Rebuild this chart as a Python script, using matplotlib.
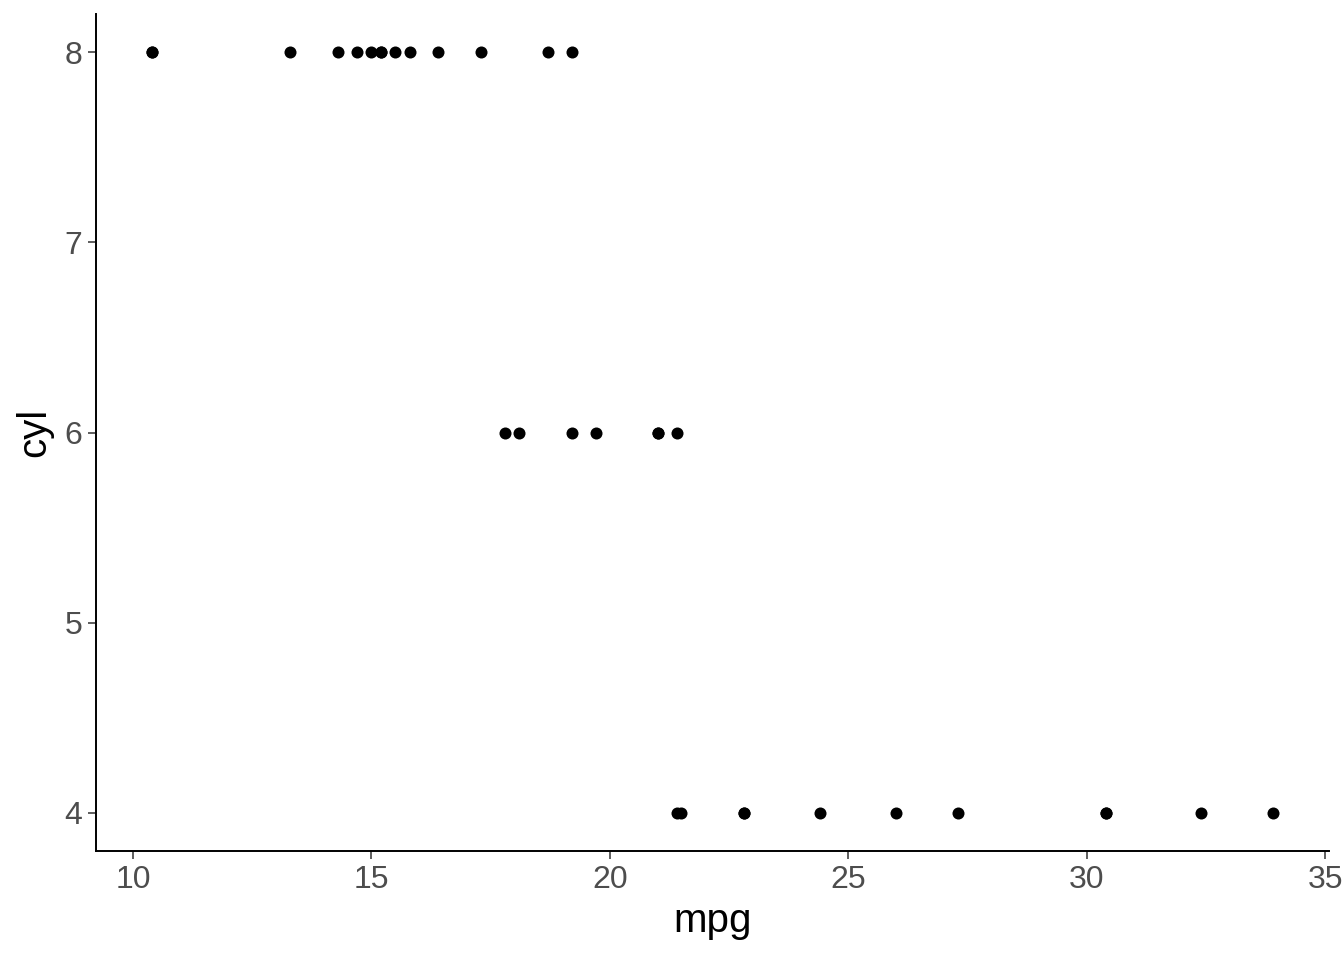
import matplotlib
matplotlib.use("Agg")
import matplotlib.pyplot as plt

plt.rcParams['font.family'] = ['Liberation Sans', 'DejaVu Sans']

mpg = [21.0, 21.0, 22.8, 21.4, 18.7, 18.1, 14.3, 24.4, 22.8, 19.2, 17.8, 16.4,
       17.3, 15.2, 10.4, 10.4, 14.7, 32.4, 30.4, 33.9, 21.5, 15.5, 15.2, 13.3,
       19.2, 27.3, 26.0, 30.4, 15.8, 19.7, 15.0, 21.4]
cyl = [6, 6, 4, 6, 8, 6, 8, 4, 4, 6, 6, 8, 8, 8, 8, 8, 8, 4, 4, 4, 4, 8, 8, 8,
       8, 4, 4, 4, 8, 6, 8, 4]
x_ticks = [10, 15, 20, 25, 30, 35]
y_ticks = [4, 5, 6, 7, 8]

fig = plt.figure(figsize=(13.44, 9.6), dpi=100)
ax = fig.add_axes([96/1344, 109/960, (1329-96)/1344, (851-14)/960])
ax.scatter(mpg, cyl, s=75, color='black', linewidths=0, zorder=3)

xr = max(mpg) - min(mpg)
ax.set_xlim(min(mpg) - 0.05*xr, max(mpg) + 0.05*xr)
yr = max(cyl) - min(cyl)
ax.set_ylim(min(cyl) - 0.05*yr, max(cyl) + 0.05*yr)
ax.set_xticks(x_ticks)
ax.set_yticks(y_ticks)
ax.tick_params(axis='both', direction='out', length=6, width=1.1, color='#333333',
               labelsize=23, labelcolor='#4D4D4D', pad=4)
for s in ['top', 'right']:
    ax.spines[s].set_visible(False)
for s in ['left', 'bottom']:
    ax.spines[s].set_linewidth(1.4)
    ax.spines[s].set_color('black')
ax.set_xlabel('mpg', fontsize=29, labelpad=5)
ax.set_ylabel('cyl', fontsize=29, labelpad=8)

fig.savefig('out.png', dpi=100)
